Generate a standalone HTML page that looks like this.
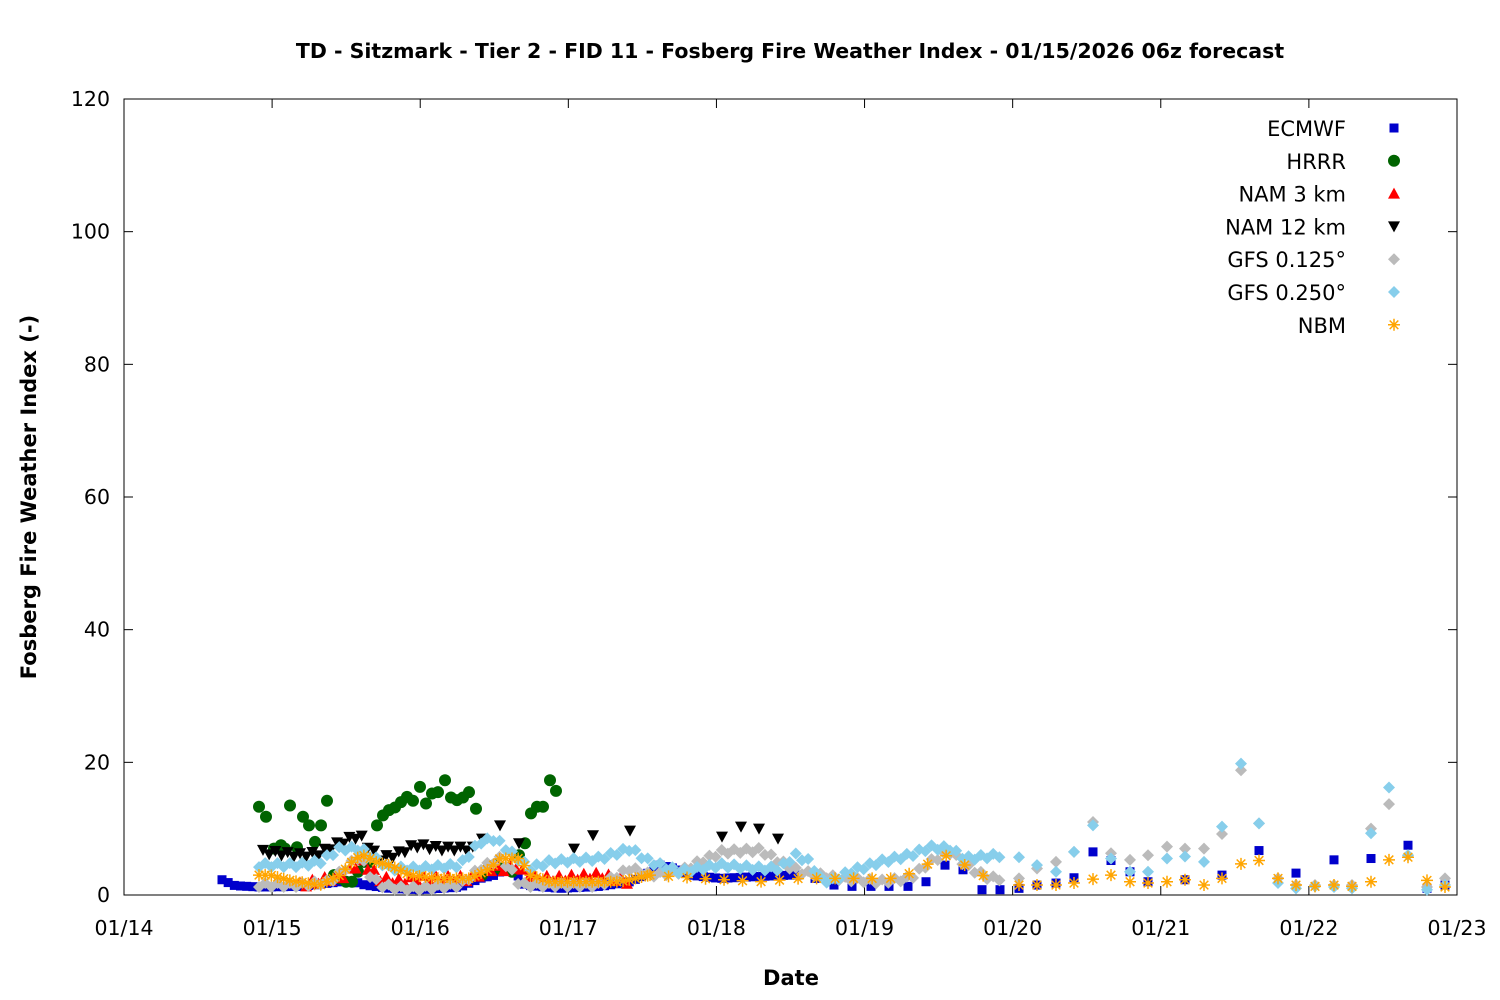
<!DOCTYPE html>
<html><head><meta charset="utf-8"><style>
body{margin:0;background:#fff;}
svg{display:block;font-family:"DejaVu Sans","Liberation Sans",sans-serif;}
</style></head><body>
<svg id="s" width="1500" height="1000" xmlns="http://www.w3.org/2000/svg">
<rect width="1500" height="1000" fill="#fff"/>
<text x="790" y="58" text-anchor="middle" font-size="20.5" font-weight="bold">TD - Sitzmark - Tier 2 - FID 11 - Fosberg Fire Weather Index - 01/15/2026 06z forecast</text>
<g id="axes" stroke="#000" stroke-width="1" fill="none">
<rect x="124" y="99" width="1333" height="796"/>
</g>
<g id="ticks" font-size="20.5" fill="#000"></g>
<text x="791" y="985" text-anchor="middle" font-size="21" font-weight="bold">Date</text>
<text transform="translate(36,497) rotate(-90)" text-anchor="middle" font-size="21" font-weight="bold">Fosberg Fire Weather Index (-)</text>
<g id="data"></g>
<g id="leg" font-size="21"></g>
</svg>
<script>
const NS="http://www.w3.org/2000/svg";
const s=document.getElementById('s'),ax=document.getElementById('axes'),tk=document.getElementById('ticks'),dg=document.getElementById('data'),lg=document.getElementById('leg');
function el(p,tag,a,t){const e=document.createElementNS(NS,tag);for(const k in a)e.setAttribute(k,a[k]);if(t!==undefined)e.textContent=t;p.appendChild(e);return e;}
const Y=v=>895-v*6.6333;
for(let i=0;i<=6;i++){const y=Y(i*20);
 el(ax,'line',{x1:124,y1:y,x2:133,y2:y});el(ax,'line',{x1:1457,y1:y,x2:1448,y2:y});
 el(tk,'text',{x:110,y:y+7,'text-anchor':'end'},String(i*20));}
const days=['01/14','01/15','01/16','01/17','01/18','01/19','01/20','01/21','01/22','01/23'];
for(let i=0;i<10;i++){const x=124+i*148.11;
 el(ax,'line',{x1:x,y1:895,x2:x,y2:886});el(ax,'line',{x1:x,y1:99,x2:x,y2:108});
 el(tk,'text',{x:x,y:935,'text-anchor':'middle'},days[i]);}
function interp(k,x){for(let i=0;i<k.length-1;i++){if(x>=k[i][0]&&x<=k[i+1][0]){const f=(x-k[i][0])/(k[i+1][0]-k[i][0]);return k[i][1]+f*(k[i+1][1]-k[i][1]);}}return k[k.length-1][1];}
function dense(k,step,jit){const out=[];for(let x=k[0][0];x<=k[k.length-1][0]+0.1;x+=step){let v=interp(k,x);if(jit)v+=((Math.round(x/step))%2?jit:-jit);out.push([x,v]);}return out;}
function mark(g,type,c,x,y){
 if(type=='sq')el(g,'rect',{x:x-4.5,y:y-4.5,width:9,height:9,fill:c});
 else if(type=='ci')el(g,'circle',{cx:x,cy:y,r:6,fill:c});
 else if(type=='tu')el(g,'polygon',{points:`${x},${y-6} ${x-6},${y+5} ${x+6},${y+5}`,fill:c});
 else if(type=='td')el(g,'polygon',{points:`${x},${y+6} ${x-6},${y-5} ${x+6},${y-5}`,fill:c});
 else if(type=='di')el(g,'polygon',{points:`${x},${y-6} ${x+6},${y} ${x},${y+6} ${x-6},${y}`,fill:c});
 else if(type=='st'){const r=6;el(g,'path',{d:`M${x-r} ${y}H${x+r}M${x} ${y-r}V${y+r}M${x-4.3} ${y-4.3}L${x+4.3} ${y+4.3}M${x-4.3} ${y+4.3}L${x+4.3} ${y-4.3}`,stroke:c,'stroke-width':1.5,fill:'none'});}
}
function plot(pts,type,c){const g=el(dg,'g',{});pts.forEach(p=>mark(g,type,c,p[0],Y(p[1])));}
const H=6.17,T3=18.51;
let ec=dense([[222,2.3],[235,1.4],[260,1.2],[300,1.3],[330,1.8],[350,2.2],[365,1.5],[390,1],[420,0.8],[460,1.2],[480,2.5],[495,3],[505,4],[515,3.5],[525,1.5],[560,1],[600,1.3],[630,2],[645,3],[660,4.5],[675,4],[690,3],[720,2.5],[760,2.8],[790,3]],H);
ec=ec.concat([[797,3],[815,2.5],[834,1.5],[852,1.3],[871,1.3],[889,1.3],[908,1.3],[926,2],[945,4.5],[963,3.8],[982,0.8],[1000,0.8],[1019,1],[1037,1.5],[1056,1.8],[1074,2.6],[1093,6.5],[1111,5.2],[1130,3.5],[1148,2],[1185,2.3],[1222,3],[1259,6.7],[1296,3.3],[1334,5.3],[1371,5.5],[1408,7.5],[1427,1],[1445,1.5]]);
plot(ec,'sq','#0000cc');
plot([[259,13.3],[266,11.8],[274,7],[281,7.5],[285,7],[290,13.5],[297,7.2],[303,11.8],[309,10.5],[315,8],[321,10.5],[327,14.2],[334,3],[340,2.5],[346,2],[352,2],[358,3.5],[364,5],[370,5],[377,10.5],[383,12],[389,12.8],[395,13.2],[401,14],[407,14.8],[413,14.2],[420,16.3],[426,13.8],[432,15.3],[438,15.5],[445,17.3],[451,14.7],[457,14.3],[463,14.7],[469,15.5],[476,13],[482,3],[488,4],[494,4.5],[500,4],[506,4],[512,3.5],[519,6],[525,7.8],[531,12.3],[537,13.3],[543,13.3],[550,17.3],[556,15.7]],'ci','#006400');
plot(dense([[300,1.5],[330,2.5],[345,3],[360,5],[370,4],[380,2.5],[400,2],[420,2.5],[450,2.5],[470,2.5],[490,4],[505,4],[515,4.5],[525,3],[540,2.5],[560,2.5],[600,3],[630,2]],H,0.4),'tu','#ff0000');
let n12=dense([[263,6.5],[300,6],[320,6.3],[335,7.5],[350,8.5],[360,9],[370,7],[380,5.5],[395,6],[415,7.5],[440,7],[476,7]],H,0.3);
n12=n12.concat([[482,8.5],[500,10.5],[519,7.8],[574,7],[593,9],[630,9.7],[722,8.8],[741,10.3],[759,10],[778,8.5]]);
plot(n12,'td','#000');
let g1=dense([[259,1.5],[300,1.5],[330,2],[360,6],[370,3],[380,1.5],[400,1],[420,1],[460,1.5],[480,4],[500,5.5],[510,4],[520,1.5],[560,1.5],[600,1.5],[630,4],[650,3],[680,3.5],[700,5],[722,6.5],[760,6.8],[780,5],[800,3.5],[820,3],[840,2.5],[880,2],[910,2.5],[930,5],[950,6.5],[970,4],[990,2.5],[1000,2.5]],H,0.3);
g1=g1.concat([[1019,2.5],[1037,4],[1056,5],[1074,6.5],[1093,11],[1111,6.3],[1130,5.3],[1148,6],[1167,7.3],[1185,7],[1204,7],[1222,9.2],[1241,18.8],[1259,10.8],[1278,2.5],[1296,1.5],[1315,1.5],[1334,1.5],[1352,1.5],[1371,10],[1389,13.7],[1408,6],[1427,1.2],[1445,2.5]]);
plot(g1,'di','#bbbbbb');
let g2=dense([[259,4.5],[300,4.5],[320,5],[340,7],[360,7],[375,5.5],[390,4],[420,4],[460,4.5],[480,8],[495,8.5],[510,6.5],[530,4],[550,5],[600,5.5],[630,7],[650,5],[680,3.5],[720,4.5],[760,4],[780,4],[795,6],[810,5],[820,2.5],[830,2],[850,3.5],[880,5],[910,6],[930,7.2],[950,7],[965,5.5],[1000,6]],H,0.3);
g2=g2.concat([[1019,5.7],[1037,4.5],[1056,3.5],[1074,6.5],[1093,10.5],[1111,5.5],[1130,3.5],[1148,3.5],[1167,5.5],[1185,5.8],[1204,5],[1222,10.3],[1241,19.8],[1259,10.8],[1278,1.8],[1296,1],[1315,1.3],[1334,1.2],[1352,1],[1371,9.3],[1389,16.2],[1408,6],[1427,0.8],[1445,1.5]]);
plot(g2,'di','#87ceeb');
const nk=[[259,3],[270,3],[290,2.2],[320,1.5],[340,3],[355,5.5],[365,6],[375,5],[390,4.5],[410,3],[440,2.5],[470,2.5],[490,4],[500,5.5],[520,5.5],[530,3],[550,2],[580,2],[620,2],[650,3],[700,2.5],[760,2],[800,2.5],[850,2.5],[900,2.5],[945,6],[965,4.5],[980,3],[1000,2.5]];
let nb=dense(nk.filter(p=>p[0]<=650),H).concat(dense(nk.filter(p=>p[0]>=650),T3));
nb=nb.concat([[1019,1.5],[1037,1.5],[1056,1.5],[1074,1.8],[1093,2.4],[1111,3],[1130,2],[1148,1.8],[1167,2],[1185,2.3],[1204,1.5],[1222,2.5],[1241,4.7],[1259,5.2],[1278,2.5],[1296,1.5],[1315,1.3],[1334,1.5],[1352,1.3],[1371,2],[1389,5.3],[1408,5.7],[1427,2.2],[1445,1.2]]);
plot(nb,'st','#ffa500');
const L=[['ECMWF','sq','#0000cc'],['HRRR','ci','#006400'],['NAM 3 km','tu','#ff0000'],['NAM 12 km','td','#000'],['GFS 0.125°','di','#bbbbbb'],['GFS 0.250°','di','#87ceeb'],['NBM','st','#ffa500']];
L.forEach((l,i)=>{const y=128+i*32.8;el(lg,'text',{x:1346,y:y+8,'text-anchor':'end'},l[0]);const g=el(lg,'g',{});mark(g,l[1],l[2],1394,y);});
</script>
</body></html>
